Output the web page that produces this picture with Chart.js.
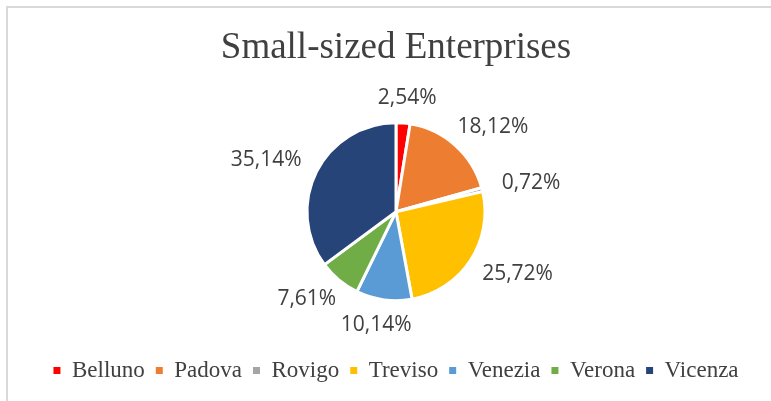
<!DOCTYPE html>
<html>
<head>
<meta charset="utf-8">
<script src="https://cdn.jsdelivr.net/npm/chart.js@4/dist/chart.umd.min.js"></script>
<style>
  html, body { margin: 0; padding: 0; background: #fff; overflow: hidden; }
  #wrap { position: relative; width: 771px; height: 401px; }
  #frame { position: absolute; left: 6px; top: 6px; width: 800px; height: 420px; border: 2px solid #d9d9d9; box-sizing: border-box; }
  #c { position: absolute; left: 0; top: 0; }
</style>
</head>
<body>
<div id="wrap">
  <div id="frame"></div>
  <canvas id="c" width="771" height="401"></canvas>
</div>
<script>
const chartTitle = "Small-sized Enterprises";
const provinces = ["Belluno", "Padova", "Rovigo", "Treviso", "Venezia", "Verona", "Vicenza"];
const shares = [2.54, 18.12, 0.72, 25.72, 10.14, 7.61, 35.14];
const sliceColors = ["#FF0000", "#ED7D31", "#A5A5A5", "#FFC000", "#5B9BD5", "#70AD47", "#264478"];

const fmt = v => v.toFixed(2).replace('.', ',') + '%';

const outsideLabels = {
  id: 'outsideLabels',
  afterDatasetsDraw(chart) {
    const ctx = chart.ctx;
    const meta = chart.getDatasetMeta(0);
    const padX = 21, padY = 17;
    ctx.save();
    ctx.font = '21px "Open Sans"';
    ctx.fillStyle = '#404040';
    ctx.textAlign = 'center';
    ctx.textBaseline = 'middle';
    meta.data.forEach((arc, i) => {
      const p = arc.getProps(['x', 'y', 'startAngle', 'endAngle', 'outerRadius'], true);
      const mid = (p.startAngle + p.endAngle) / 2;
      const dx = Math.cos(mid), dy = Math.sin(mid);
      const txt = fmt(chart.data.datasets[0].data[i]);
      const w = ctx.measureText(txt).width;
      const h = 16;
      const rx = p.outerRadius + padX + w / 2;
      const ry = p.outerRadius + padY + h / 2;
      ctx.fillText(txt, p.x + dx * rx, p.y + dy * ry);
    });
    ctx.restore();
  }
};

new Chart(document.getElementById('c'), {
  type: 'pie',
  data: {
    labels: provinces,
    datasets: [{
      data: shares,
      backgroundColor: sliceColors,
      borderColor: '#ffffff',
      borderWidth: 3,
      radius: 89
    }]
  },
  options: {
    responsive: false,
    animation: false,
    devicePixelRatio: 1,
    layout: { padding: { left: 21, right: 0, top: 0, bottom: 9 } },
    plugins: {
      title: {
        display: true,
        text: chartTitle,
        color: '#404040',
        font: { family: '"Liberation Serif"', size: 37, weight: 'normal', lineHeight: 1.2 },
        padding: { top: 26, bottom: 5 }
      },
      legend: {
        display: true,
        position: 'bottom',
        labels: {
          color: '#404040',
          font: { family: '"Liberation Serif"', size: 23, lineHeight: 1.2 },
          boxWidth: 7,
          boxHeight: 7,
          padding: 11,
          generateLabels(chart) {
            const items = Chart.overrides.pie.plugins.legend.labels.generateLabels(chart);
            items.forEach(it => { it.lineWidth = 0; it.strokeStyle = 'rgba(0,0,0,0)'; });
            return items;
          }
        }
      },
      tooltip: { enabled: false }
    }
  },
  plugins: [outsideLabels]
});
</script>
</body>
</html>
